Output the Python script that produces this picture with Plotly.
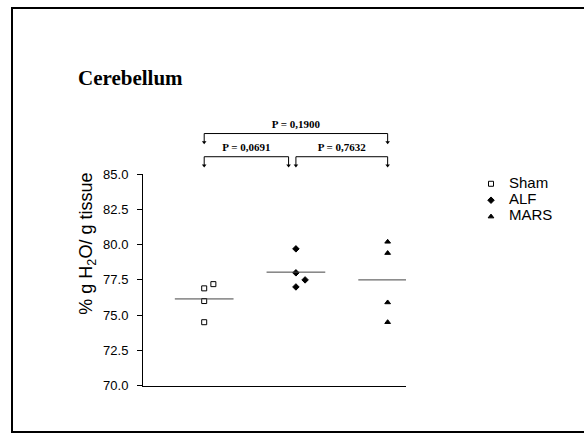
import plotly.graph_objects as go

# group data (% g H2O / g tissue)
groups = ["Sham", "ALF", "MARS"]
sham = [76.9, 77.2, 76.0, 74.5]
alf = [79.7, 78.0, 77.5, 77.0]
mars = [80.2, 79.4, 75.9, 74.5]
# small horizontal jitter per point
sham_dx = [0.0, 0.1, 0.0, 0.0]
alf_dx = [0.0, 0.0, 0.1, 0.0]
mars_dx = [0.0, 0.0, 0.0, 0.0]

# pairwise comparisons: (from, to, level, label)
comparisons = [
    (1, 3, 2, "P = 0,1900"),
    (1, 1.92, 1, "P = 0,0691"),
    (2.0, 3, 1, "P = 0,7632"),
]

y_ticks = [70.0, 72.5, 75.0, 77.5, 80.0, 82.5, 85.0]

W, H = 584, 441


def px(x):
    return x / W


def py(y):
    return 1 - y / H


fig = go.Figure()

symbols = ["square-open", "diamond", "triangle-up"]
values = [sham, alf, mars]
jitter = [sham_dx, alf_dx, mars_dx]

for i, name in enumerate(groups):
    pos = i + 1
    vals = values[i]
    fig.add_trace(
        go.Scatter(
            x=[pos + d for d in jitter[i]],
            y=vals,
            mode="markers",
            name=name,
            marker=dict(symbol=symbols[i], size=5, color="black", line=dict(color="black", width=1)),
            cliponaxis=False,
            showlegend=False,
        )
    )
    mean = sum(vals) / len(vals)
    fig.add_trace(
        go.Scatter(
            x=[pos - 0.32, pos + 0.32],
            y=[mean, mean],
            mode="lines",
            line=dict(color="#444", width=1),
            showlegend=False,
            hoverinfo="skip",
        )
    )

    # hand-made legend (tighter spacing than plotly's)
    fig.add_trace(
        go.Scatter(
            x=[11],
            y=[47 - 17 * i],
            mode="markers",
            marker=dict(symbol=symbols[i], size=5, color="black", line=dict(color="black", width=1)),
            xaxis="x3",
            yaxis="y3",
            showlegend=False,
            hoverinfo="skip",
        )
    )
    fig.add_trace(
        go.Scatter(
            x=[29],
            y=[47 - 17 * i],
            mode="text",
            text=[name],
            textposition="middle right",
            textfont=dict(size=15, color="black"),
            xaxis="x3",
            yaxis="y3",
            showlegend=False,
            hoverinfo="skip",
        )
    )

# brackets in the strip above the plot
for x0, x1, lvl, label in comparisons:
    ybar = 13 if lvl == 1 else 37
    ytip = ybar - 9
    fig.add_trace(
        go.Scatter(
            x=[x0, x0, None, x0, x1, None, x1, x1],
            y=[ytip, ybar, None, ybar, ybar, None, ybar, ytip],
            mode="lines",
            line=dict(color="black", width=1),
            xaxis="x2",
            yaxis="y2",
            showlegend=False,
            hoverinfo="skip",
        )
    )
    fig.add_trace(
        go.Scatter(
            x=[x0, x1],
            y=[ytip, ytip],
            mode="markers",
            marker=dict(symbol="triangle-down", size=4, color="black"),
            xaxis="x2",
            yaxis="y2",
            showlegend=False,
            hoverinfo="skip",
            cliponaxis=False,
        )
    )
    fig.add_trace(
        go.Scatter(
            x=[(x0 + x1) / 2],
            y=[ybar + 9],
            mode="text",
            text=["<b>" + label + "</b>"],
            textposition="middle center",
            textfont=dict(family="Liberation Serif", size=11, color="black"),
            xaxis="x2",
            yaxis="y2",
            showlegend=False,
            hoverinfo="skip",
            cliponaxis=False,
        )
    )

xrange = [0.333, 3.2]
fig.update_layout(
    width=W,
    height=H,
    margin=dict(l=0, r=0, t=0, b=0),
    plot_bgcolor="white",
    paper_bgcolor="white",
    font=dict(family="Liberation Sans", color="black"),
    showlegend=False,
    xaxis=dict(
        domain=[px(143), px(406)],
        range=xrange,
        showline=True,
        linecolor="black",
        linewidth=1,
        showticklabels=False,
        ticks="",
        showgrid=False,
        zeroline=False,
    ),
    yaxis=dict(
        domain=[py(392), py(173)],
        range=[70, 85],
        tickvals=y_ticks,
        tickformat=".1f",
        showline=True,
        linecolor="black",
        linewidth=1,
        ticks="outside",
        ticklen=5,
        tickcolor="black",
        ticklabelstandoff=6,
        tickfont=dict(size=13),
        showgrid=False,
        zeroline=False,
    ),
    xaxis2=dict(domain=[px(143), px(406)], range=xrange, visible=False, anchor="y2"),
    yaxis2=dict(domain=[py(168), py(108)], range=[0, 60], visible=False, anchor="x2"),
    xaxis3=dict(domain=[px(480), px(580)], range=[0, 100], visible=False, anchor="y3"),
    yaxis3=dict(domain=[py(230), py(170)], range=[0, 60], visible=False, anchor="x3"),
    shapes=[
        dict(
            type="rect",
            xref="paper",
            yref="paper",
            x0=px(12),
            x1=px(620),
            y0=py(440),
            y1=py(1),
            line=dict(color="black", width=2),
        )
    ],
    annotations=[
        dict(
            x=px(76),
            y=py(74),
            xref="paper",
            yref="paper",
            xanchor="left",
            yanchor="middle",
            text="<b>Cerebellum</b>",
            showarrow=False,
            font=dict(family="Liberation Serif", size=21, color="black"),
        ),
        dict(
            x=px(88),
            y=py(245),
            xref="paper",
            yref="paper",
            xanchor="center",
            yanchor="middle",
            textangle=-90,
            text="% g H<sub>2</sub>O/ g tissue",
            showarrow=False,
            font=dict(size=18, color="black"),
        ),
    ],
)

fig.write_html(
    "out.html",
    config={"displayModeBar": False},
    post_script="document.body.style.margin='0';document.body.style.overflow='hidden';",
)
